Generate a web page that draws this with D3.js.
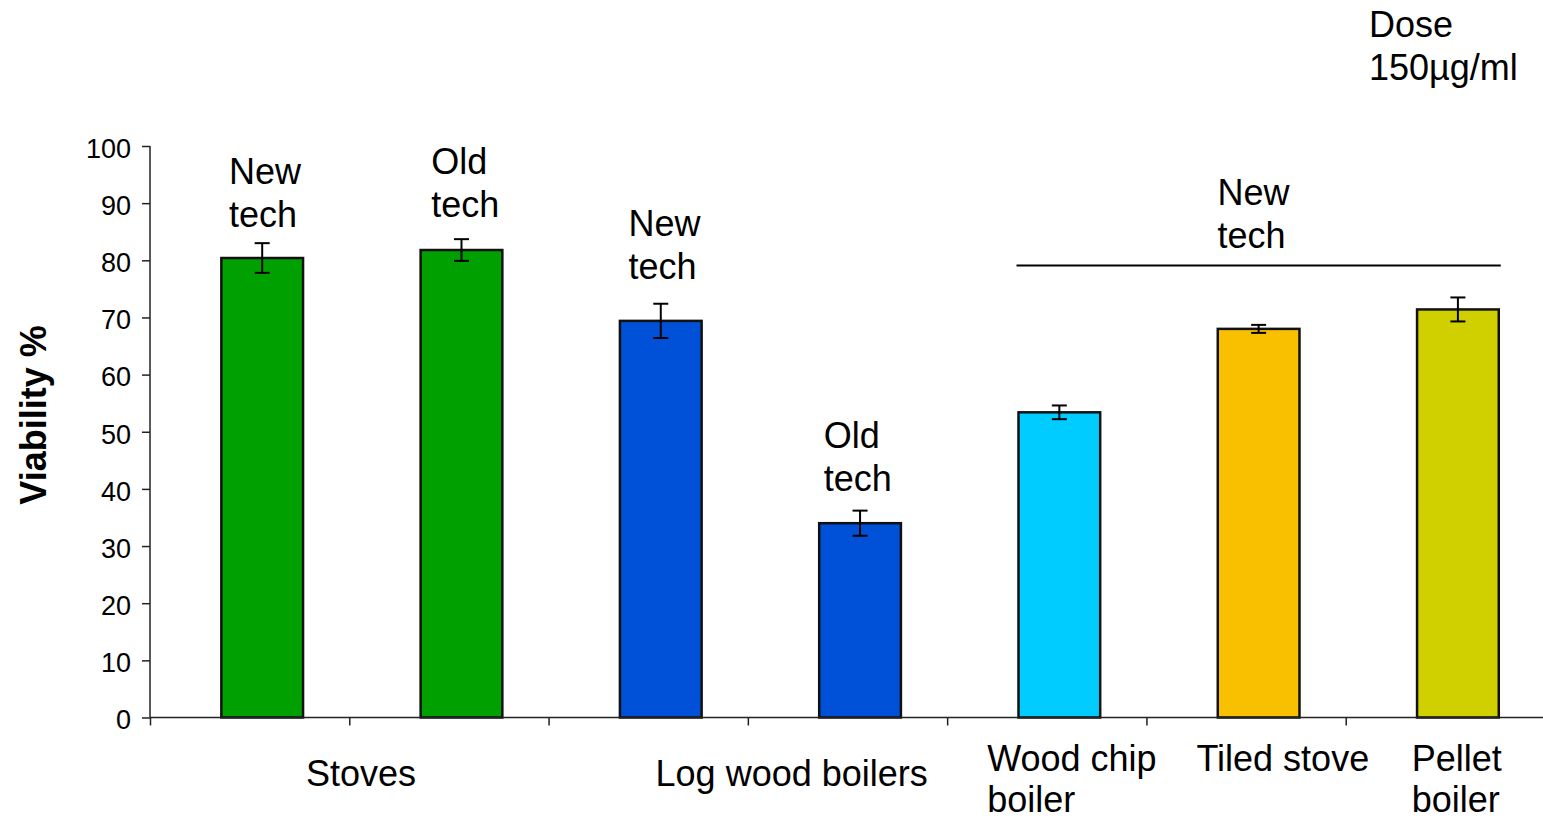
<!DOCTYPE html>
<html>
<head>
<meta charset="utf-8">
<script src="https://cdn.jsdelivr.net/npm/d3@7"></script>
<style>
  body { margin: 0; background: #fff; }
  text { font-family: "Liberation Sans", Arial, sans-serif; fill: #000; }
</style>
</head>
<body>
<div id="vis"></div>
<script>
// bars, left to right
const categories = ["Stoves new", "Stoves old", "Log wood new", "Log wood old", "Wood chip boiler", "Tiled stove", "Pellet boiler"];
const viability = [80.4, 81.8, 69.4, 34.0, 53.4, 68.0, 71.4];
const errors = [2.6, 1.9, 3.0, 2.2, 1.2, 0.7, 2.1];
const barColors = ["#00a000", "#00a000", "#0050d8", "#0050d8", "#00ccff", "#f9c000", "#d0d000"];
const yTicks = [0, 10, 20, 30, 40, 50, 60, 70, 80, 90, 100];

// labels under the axis: band index + text lines
const groupLabels = [
  {band: 0, dx: 156, lines: ["Stoves"], row: 1},
  {band: 2, dx: 107, lines: ["Log wood boilers"], row: 1},
  {band: 4, dx: 40, lines: ["Wood chip", "boiler"], row: 0},
  {band: 5, dx: 50, lines: ["Tiled stove"], row: 0},
  {band: 6, dx: 66, lines: ["Pellet", "boiler"], row: 0}
];
// "new/old tech" notes above bars (v = baseline in axis units)
const techNotes = [
  {band: 0, dx: 79, v: 93.3, lines: ["New", "tech"]},
  {band: 1, dx: 82, v: 95.1, lines: ["Old", "tech"]},
  {band: 2, dx: 80, v: 84.3, lines: ["New", "tech"]},
  {band: 3, dx: 76, v: 47.2, lines: ["Old", "tech"]},
  {band: 5, dx: 71, v: 89.6, lines: ["New", "tech"]}
];

const WIDTH = 1543, HEIGHT = 818;
const MARG = {left: 150, right: -2, top: 146, bottom: 100};
const LINE = 43;

const svg = d3.select("#vis").append("svg")
    .attr("width", WIDTH)
    .attr("height", HEIGHT);

const X = d3.scaleBand()
    .domain(categories)
    .range([MARG.left, WIDTH - MARG.right])
    .padding(0);
const STEP = X.step();
const EDGE = d3.scaleLinear().domain([0, categories.length]).range([MARG.left, WIDTH - MARG.right]);

const Y = d3.scaleLinear()
    .domain([0, 100])
    .range([HEIGHT - 100.5, MARG.top]);

const barX = (i) => X(categories[i]) + STEP * 0.358;
const barW = STEP * 0.41;

// y axis
const yAxis = svg.append("g")
    .attr("transform", "translate(" + MARG.left + ",0)")
    .call(d3.axisLeft(Y).tickValues(yTicks).tickSize(8).tickPadding(11));
yAxis.selectAll("path, line").attr("stroke", "#222").attr("stroke-width", 1.5);
yAxis.select(".domain").attr("d", "M0," + Y(100) + "V" + Y(0));
yAxis.selectAll("text")
    .attr("font-size", "27px")
    .attr("font-family", "Liberation Sans, Arial, sans-serif")
    .attr("dy", "0.42em");

// bars
svg.selectAll("rect.bar")
    .data(viability)
    .enter()
    .append("rect")
        .attr("class", "bar")
        .attr("x", (d, i) => barX(i))
        .attr("y", (d) => Y(d))
        .attr("width", barW)
        .attr("height", (d) => Y(0) - Y(d))
        .attr("fill", (d, i) => barColors[i])
        .attr("stroke", "#111")
        .attr("stroke-width", 2.5);

// x axis (ticks between categories)
const xAxis = svg.append("g")
    .attr("transform", "translate(0," + Y(0) + ")")
    .call(d3.axisBottom(EDGE).tickValues(d3.range(categories.length + 1)).tickSize(8).tickFormat(""));
xAxis.selectAll("path, line").attr("stroke", "#222").attr("stroke-width", 1.5);
xAxis.select(".domain").attr("d", "M" + EDGE(0) + ",0H" + EDGE(categories.length));

// error bars
const err = svg.selectAll("g.err")
    .data(viability)
    .enter()
    .append("g")
        .attr("class", "err")
        .attr("stroke", "#000")
        .attr("stroke-width", 2);
err.append("line")
    .attr("x1", (d, i) => barX(i) + barW / 2)
    .attr("x2", (d, i) => barX(i) + barW / 2)
    .attr("y1", (d, i) => Y(d + errors[i]))
    .attr("y2", (d, i) => Y(d - errors[i]));
err.append("line")
    .attr("x1", (d, i) => barX(i) + barW / 2 - 7.5)
    .attr("x2", (d, i) => barX(i) + barW / 2 + 7.5)
    .attr("y1", (d, i) => Y(d + errors[i]))
    .attr("y2", (d, i) => Y(d + errors[i]));
err.append("line")
    .attr("x1", (d, i) => barX(i) + barW / 2 - 7.5)
    .attr("x2", (d, i) => barX(i) + barW / 2 + 7.5)
    .attr("y1", (d, i) => Y(d - errors[i]))
    .attr("y2", (d, i) => Y(d - errors[i]));

// tech notes
techNotes.forEach((n) => {
  const t = svg.append("text")
      .attr("x", X(categories[n.band]) + n.dx)
      .attr("y", Y(n.v))
      .attr("font-size", "36px");
  n.lines.forEach((s, k) => {
    t.append("tspan").attr("x", X(categories[n.band]) + n.dx).attr("dy", k ? LINE : 0).text(s);
  });
});

// bracket line over the three new-tech heaters
svg.append("line")
    .attr("x1", barX(4) - 2)
    .attr("x2", barX(6) + barW + 2)
    .attr("y1", Y(79.1))
    .attr("y2", Y(79.1))
    .attr("stroke", "#000")
    .attr("stroke-width", 2);

// category labels
groupLabels.forEach((g) => {
  const x0 = X(categories[g.band]) + g.dx;
  const t = svg.append("text")
      .attr("x", x0)
      .attr("y", g.row ? 786 : 771)
      .attr("font-size", "36px");
  g.lines.forEach((s, k) => {
    t.append("tspan").attr("x", x0).attr("dy", k ? 41 : 0).text(s);
  });
});

// y title
svg.append("text")
    .attr("transform", "translate(46," + 415 + ") rotate(-90)")
    .attr("text-anchor", "middle")
    .attr("font-size", "36px")
    .attr("font-weight", "bold")
    .text("Viability %");

// dose note
const dose = svg.append("text")
    .attr("x", 1369)
    .attr("y", 37)
    .attr("font-size", "36px");
dose.append("tspan").attr("x", 1369).text("Dose");
dose.append("tspan").attr("x", 1369).attr("dy", LINE).text("150µg/ml");
</script>
</body>
</html>
